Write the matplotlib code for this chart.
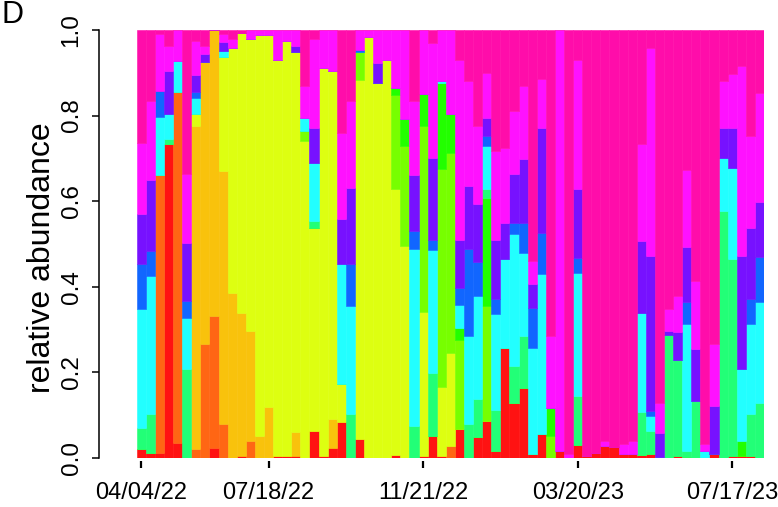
import numpy as np
import matplotlib.pyplot as plt

plt.rcParams['font.family'] = ['Liberation Sans', 'DejaVu Sans']

# x axis: sample index of the labelled dates
tick_idx = [0, 14, 31, 48, 65]
tick_lab = ['04/04/22', '07/18/22', '11/21/22', '03/20/23', '07/17/23']

# relative abundance (%) of each taxon per sample (69 samples), stacked bottom -> top
red = [2.0, 1.2, 1.2, 73.3, 3.6, 0, 0, 0, 2.4, 0,
       0, 0.5, 0, 0, 0, 0.5, 0.5, 0.5, 0, 6.3,
       0.5, 2.4, 8.3, 0, 4.4, 0, 0, 0, 0.6, 0,
       0, 0.5, 5.1, 0.5, 0, 6.7, 0, 4.8, 8.6, 1.6,
       25.8, 12.9, 16.4, 0.9, 5.5, 0, 1.6, 0, 3.0, 0.5,
       1.1, 2.8, 2.6, 0.9, 0.9, 0.6, 0.9, 0.3, 0, 0.5,
       0.3, 0, 0, 0.9, 0, 0.5, 0.5, 0.5, 0]
orange = [0, 0, 64.8, 0, 81.9, 0, 2.0, 26.6, 30.8, 7.9,
          0, 0, 4.0, 0, 0, 0, 0, 0, 0, 0,
          0, 0, 0, 0, 0, 0, 0, 0, 0, 0,
          0, 0, 0, 0, 2.8, 0, 0, 0, 0, 0,
          0, 0, 0, 0, 0, 0, 0, 0, 0, 0,
          0, 0, 0, 0, 0, 0, 0, 0, 0, 0,
          0, 0, 0, 0, 0, 0, 0, 0, 0]
amber = [0, 0, 0, 0, 0, 0, 75.5, 65.8, 66.8, 59.2,
         38.6, 33.5, 25.7, 5.1, 11.8, 0, 0, 5.5, 0, 0,
         0, 6.6, 0, 0, 0, 0, 0, 0, 0, 0,
         0, 0, 0, 0, 0, 0, 0, 0, 0, 0,
         0, 0, 0, 0, 0, 0, 0, 0, 0, 0,
         0, 0, 0, 0, 0, 0, 0, 0, 0, 0,
         0, 0, 0, 0, 0, 0, 0, 0, 0]
yellow = [0, 0, 0, 0, 0, 0, 2.7, 0, 0, 26.5,
          57.2, 65.3, 68.3, 93.6, 87.0, 92.7, 97.0, 88.9, 74.1, 47.5,
          90.7, 81.4, 9.0, 0, 84.1, 98.4, 87.7, 93.1, 62.3, 49.5,
          0, 33.5, 0, 16.0, 21.8, 0, 0, 0, 0, 0,
          0, 0, 0, 0, 0, 0, 0, 0, 0, 0,
          0, 0, 0, 0, 0, 0, 0, 0, 0, 0,
          0, 0, 0, 0, 0, 0, 0, 0, 0]
chartreuse = [0, 0, 0, 0, 0, 0, 0, 0, 0, 0,
              0, 0, 0, 0, 0, 0, 0, 0, 2.3, 0,
              0, 0, 0, 0, 6.4, 0, 0, 0, 21.8, 23.4,
              0, 43.6, 0, 51.0, 46.7, 21.0, 0, 0, 26.9, 0,
              0, 0, 0, 0, 0, 5.1, 0, 0, 0, 0,
              0, 0, 0, 0, 0, 0, 0, 0, 0, 0,
              0, 0, 0, 0, 0, 0, 0, 0, 0]
green = [0, 0, 0, 0, 0, 0, 0, 0, 0, 0,
         0, 0, 0, 0, 0, 0, 0, 0, 0, 0,
         0, 0, 0, 0, 0, 0, 0, 0, 1.8, 6.2,
         0, 7.4, 0, 20.2, 9.0, 2.7, 0, 0, 25.3, 0,
         0, 0, 0, 0, 0, 6.6, 0, 0, 0, 0,
         0, 0, 0, 0, 0, 0, 0, 0, 0, 0,
         0, 0, 0, 0, 0, 0, 3.5, 0, 0]
spring = [5.1, 9.0, 0, 1.2, 0, 20.7, 0, 0, 0, 0,
          0, 0, 0, 0, 0, 0, 0, 0, 0, 1.6,
          0, 0, 0, 10.2, 0, 0, 0, 0, 0, 0,
          7.5, 0, 14.8, 0, 0, 0, 7.9, 9.0, 1.9, 9.7,
          0, 8.6, 12.1, 0, 0, 0, 0, 0, 11.5, 0,
          0, 0, 0, 0, 0, 10.1, 5.5, 0, 28.7, 22.4,
          1.3, 13.3, 0, 0, 57.7, 46.0, 0, 9.7, 12.9]
cyan = [27.6, 32.3, 13.5, 5.8, 7.2, 12.1, 3.9, 0, 0, 1.6,
        0, 0, 0, 0, 0, 0, 0, 0, 3.1, 13.6,
        0, 0, 28.0, 25.3, 0, 0, 0, 0, 0, 0,
        41.3, 0, 28.8, 0.4, 0, 5.5, 20.6, 24.1, 10.1, 22.2,
        20.6, 30.8, 19.5, 24.9, 37.4, 0, 0, 0, 28.8, 0,
        0, 0, 0, 0, 0, 23.2, 3.5, 0, 0, 0,
        29.8, 0, 1.6, 0, 12.5, 21.4, 16.7, 21.0, 23.4]
blue = [10.5, 5.8, 6.2, 0, 0, 3.9, 1.3, 0, 0, 0,
        0, 0, 0, 0, 0, 0, 0, 0, 0, 0,
        0, 0, 0, 9.7, 0.5, 0, 0, 0, 0, 0,
        4.3, 0, 2.3, 0, 0, 3.9, 20.2, 7.8, 2.3, 3.5,
        0, 2.7, 7.0, 9.3, 9.7, 0, 0, 0, 3.5, 0,
        0, 0, 0, 0, 0, 0, 1.2, 0, 0, 0,
        5.0, 0, 0, 0, 0, 0, 0, 5.8, 10.5]
violet = [11.7, 16.7, 0, 10.1, 0, 13.6, 4.1, 1.9, 0, 1.9,
          0, 0, 0, 0, 0, 0, 0, 1.4, 0, 8.2,
          0, 0, 10.5, 17.9, 0, 0, 4.7, 0, 0, 0,
          13.0, 0, 19.1, 0, 0, 11.3, 14.8, 13.6, 4.3, 14.0,
          8.6, 11.3, 14.8, 5.5, 24.5, 0, 0, 0, 16.0, 0,
          0, 0, 0, 0, 0, 16.7, 36.2, 5.6, 1.0, 6.6,
          12.9, 12.1, 0, 11.3, 7.0, 9.3, 26.5, 16.7, 13.0]
magenta = [16.7, 18.3, 13.2, 5.8, 7.2, 16.0, 7.8, 1.9, 0, 1.9,
           1.9, 0, 2.0, 1.2, 1.2, 6.9, 2.6, 3.7, 7.4, 20.6,
           8.8, 9.6, 20.2, 20.2, 4.7, 1.6, 7.6, 6.9, 13.5, 20.9,
           17.4, 15.0, 26.9, 11.9, 19.7, 42.1, 24.5, 18.3, 10.5, 20.6,
           17.5, 14.8, 17.1, 5.5, 11.3, 16.7, 98.4, 0.9, 30.4, 0,
           0, 1.2, 0, 2.3, 3.1, 22.6, 48.7, 7.0, 5.2, 8.4,
           18.1, 16.0, 1.6, 14.4, 10.9, 12.5, 44.5, 21.4, 25.5]
pink = [26.3, 16.6, 1.0, 3.7, 0, 33.7, 2.6, 3.7, 0, 1.0,
        2.2, 0.8, 0, 0, 0, 0, 0, 0, 13.1, 2.2,
        0, 0, 24.0, 16.6, 0, 0, 0, 0, 0, 0,
        16.6, 0, 3.0, 0, 0, 6.9, 11.9, 22.4, 10.0, 28.3,
        27.5, 18.9, 13.1, 54.0, 11.5, 71.5, 0, 99.1, 6.9, 99.5,
        98.9, 96.0, 97.4, 96.8, 96.0, 26.7, 4.1, 87.1, 65.1, 62.1,
        32.6, 58.6, 96.8, 73.4, 11.9, 10.4, 8.3, 24.8, 14.6]

taxa = [red, orange, amber, yellow, chartreuse, green,
        spring, cyan, blue, violet, magenta, pink]
cols = ['#FF1212', '#FF6614', '#F9C20C', '#DDFF11', '#77FF00', '#22FF00',
        '#22FF77', '#22FFFF', '#1166FF', '#7711FF', '#FF11FF', '#FF0DAA']

abund = np.array(taxa, dtype=float)
abund = abund / abund.sum(axis=0)
n = abund.shape[1]
x = np.arange(n) + 0.5

W, H = 778, 507
fig = plt.figure(figsize=(W / 100, H / 100), dpi=100)
ax = fig.add_axes([136.7 / W, 1 - 458 / H, (764 - 136.7) / W, 428 / H])

bottom = np.zeros(n)
for vals, c in zip(abund, cols):
    ax.bar(x, vals, width=1.0, bottom=bottom, color=c, edgecolor=c, linewidth=0.4)
    bottom += vals

ax.set_xlim(0, n)
ax.set_ylim(0, 1)

for s in ['top', 'right']:
    ax.spines[s].set_visible(False)
ax.spines['bottom'].set_color('none')
ax.spines['bottom'].set_position(('outward', 2))
ax.spines['left'].set_position(('outward', 27))
ax.spines['left'].set_linewidth(1.1)
ax.spines['left'].set_bounds(0, 1)

yt = [0, 0.2, 0.4, 0.6, 0.8, 1.0]
ax.set_yticks(yt)
ax.set_yticklabels(['%.1f' % v for v in yt], rotation=90, va='center', fontsize=17.5)
ax.tick_params(axis='y', length=5, width=1.1, pad=7)

ax.set_xticks([i + 0.5 for i in tick_idx])
ax.set_xticklabels(tick_lab, fontsize=17)
ax.tick_params(axis='x', length=5, width=1.6, pad=10)

fig.text(42 / W, 1 - 258 / H, 'relative abundance', rotation=90,
         ha='center', va='center', fontsize=23)
# panel letter (partly clipped in the source; kept just inside the frame here)
fig.text(1 / W, 1 - 23 / H, 'D', ha='left', va='baseline', fontsize=22)

fig.savefig('out.png', dpi=100)
